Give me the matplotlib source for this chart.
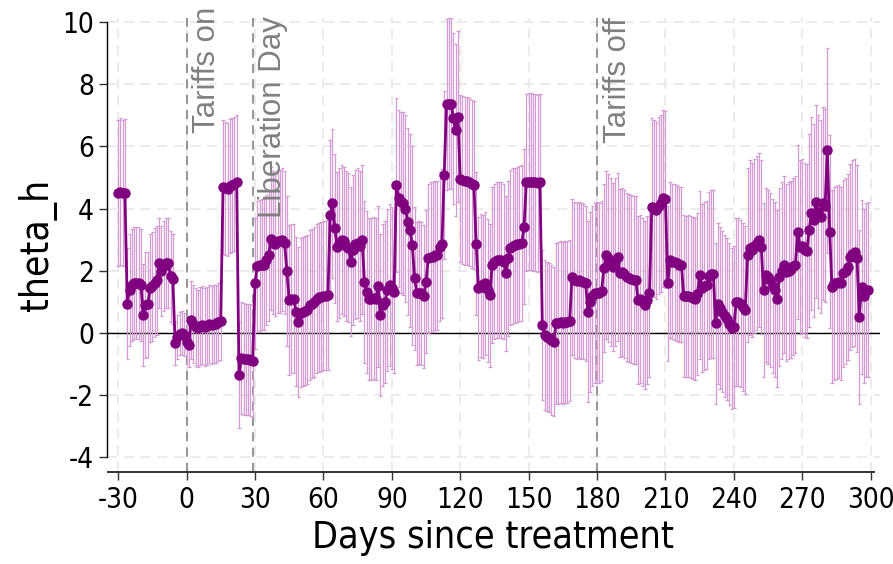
import matplotlib
matplotlib.use("Agg")
import matplotlib.pyplot as plt
from matplotlib import font_manager

# Daily estimates of theta_h with 95% confidence half-widths
days = list(range(-30, 300))

theta = [
    4.50, 4.55, 4.50, 4.52, 0.95, 1.40, 1.55, 1.60, 1.62, 1.60,
    1.55, 0.58, 0.90, 0.92, 1.45, 1.50, 1.62, 1.70, 2.24, 2.00,
    2.15, 2.25, 2.25, 1.82, 1.75, -0.33, -0.12, -0.02, 0.00, -0.05,
    -0.30, -0.38, 0.42, 0.30, 0.20, 0.15, 0.22, 0.25, 0.20, 0.22,
    0.28, 0.25, 0.30, 0.30, 0.35, 0.38, 4.70, 4.65, 4.62, 4.72,
    4.75, 4.80, 4.85, -1.35, -0.80, -0.82, -0.85, -0.85, -0.88, -0.90,
    1.60, 2.15, 2.18, 2.20, 2.20, 2.35, 2.50, 3.04, 2.90, 2.85,
    2.95, 2.95, 3.00, 2.90, 2.00, 1.06, 1.10, 1.10, 0.69, 0.36,
    0.65, 0.69, 0.72, 0.75, 0.90, 0.95, 1.00, 1.10, 1.15, 1.17,
    1.20, 1.20, 1.22, 3.80, 4.17, 3.37, 2.78, 2.90, 3.00, 2.95,
    2.80, 2.75, 2.30, 2.67, 2.85, 2.90, 2.80, 3.00, 1.65, 1.33,
    1.10, 1.10, 1.12, 1.10, 1.50, 0.58, 0.90, 1.00, 1.38, 1.55,
    1.45, 1.33, 4.76, 4.33, 4.20, 4.17, 4.00, 3.58, 3.31, 2.83,
    1.76, 1.28, 1.30, 1.28, 1.19, 1.65, 2.40, 2.45, 2.45, 2.50,
    2.50, 2.78, 2.88, 5.08, 7.35, 7.38, 7.38, 6.90, 6.53, 6.96,
    4.97, 4.92, 4.90, 4.88, 4.85, 4.80, 4.76, 2.88, 1.44, 1.54,
    1.49, 1.60, 1.38, 1.22, 2.19, 2.30, 2.35, 2.35, 2.35, 2.30,
    1.92, 2.40, 2.75, 2.80, 2.82, 2.85, 2.88, 2.90, 3.42, 4.85,
    4.87, 4.87, 4.85, 4.85, 4.82, 4.85, 0.26, -0.06, -0.12, -0.15,
    -0.22, -0.28, 0.31, 0.33, 0.35, 0.33, 0.35, 0.36, 0.40, 1.81,
    1.70, 1.67, 1.70, 1.68, 1.65, 1.60, 0.69, 1.00, 1.20, 1.28,
    1.30, 1.28, 1.35, 2.08, 2.50, 2.40, 2.30, 2.13, 2.30, 2.45,
    1.92, 1.95, 1.90, 1.80, 1.78, 1.75, 1.72, 1.70, 1.06, 1.10,
    1.00, 0.90, 1.05, 1.28, 4.06, 4.00, 3.95, 4.10, 4.17, 4.33,
    4.30, 1.60, 2.35, 2.30, 2.28, 2.25, 2.20, 2.20, 1.20, 1.18,
    1.20, 1.15, 1.12, 1.10, 1.25, 1.86, 1.45, 1.50, 1.55, 1.85,
    1.90, 1.90, 0.31, 0.95, 0.80, 0.69, 0.55, 0.45, 0.30, 0.15,
    0.20, 1.00, 1.00, 0.95, 0.85, 0.74, 2.50, 2.75, 2.67, 2.80,
    2.90, 3.00, 2.78, 1.38, 1.86, 1.80, 1.70, 1.50, 1.40, 1.10,
    1.80, 2.00, 2.20, 1.95, 2.00, 2.05, 2.15, 2.20, 3.26, 2.78,
    2.80, 2.67, 2.65, 3.31, 3.85, 3.63, 4.22, 3.90, 3.74, 4.17,
    4.10, 5.88, 3.26, 1.49, 1.60, 1.62, 1.65, 1.60, 1.92, 2.00,
    2.13, 2.45, 2.55, 2.60, 2.40, 0.53, 1.49, 1.20, 1.38, 1.40,
]

ci_half = [
    2.35, 2.35, 2.35, 2.35, 1.80, 1.80, 1.80, 1.80, 1.80, 1.80,
    1.80, 1.65, 1.70, 1.70, 1.75, 1.75, 1.75, 1.75, 1.45, 1.45,
    1.45, 1.45, 1.45, 1.45, 1.45, 0.70, 0.70, 0.70, 0.70, 0.70,
    0.70, 0.70, 1.25, 1.25, 1.25, 1.25, 1.25, 1.25, 1.25, 1.25,
    1.25, 1.25, 1.25, 1.25, 1.25, 1.25, 2.15, 2.15, 2.15, 2.15,
    2.15, 2.15, 2.15, 1.70, 1.80, 1.80, 1.80, 1.80, 1.80, 1.80,
    2.10, 2.10, 2.10, 2.10, 2.10, 2.10, 2.10, 2.30, 2.30, 2.30,
    2.30, 2.30, 2.30, 2.30, 2.40, 2.40, 2.40, 2.40, 2.40, 2.40,
    2.40, 2.40, 2.40, 2.40, 2.40, 2.40, 2.40, 2.40, 2.40, 2.40,
    2.40, 2.40, 2.40, 2.40, 2.40, 2.40, 2.40, 2.40, 2.40, 2.40,
    2.40, 2.40, 2.40, 2.40, 2.40, 2.40, 2.40, 2.40, 2.60, 2.60,
    2.60, 2.60, 2.60, 2.60, 2.60, 2.60, 2.60, 2.60, 2.60, 2.60,
    2.60, 2.60, 2.80, 2.85, 2.90, 2.95, 3.00, 3.00, 3.10, 3.20,
    2.30, 2.30, 2.30, 2.30, 2.30, 2.30, 2.40, 2.40, 2.40, 2.40,
    2.40, 2.40, 2.40, 2.70, 2.75, 2.75, 2.75, 2.75, 2.75, 2.75,
    2.70, 2.70, 2.70, 2.70, 2.70, 2.70, 2.70, 2.30, 2.30, 2.30,
    2.30, 2.30, 2.30, 2.30, 2.50, 2.50, 2.50, 2.50, 2.50, 2.50,
    2.50, 2.50, 2.50, 2.50, 2.50, 2.50, 2.50, 2.50, 2.50, 2.85,
    2.85, 2.85, 2.85, 2.85, 2.85, 2.85, 2.40, 2.40, 2.40, 2.40,
    2.40, 2.40, 2.60, 2.60, 2.60, 2.60, 2.60, 2.60, 2.60, 2.50,
    2.50, 2.50, 2.50, 2.50, 2.50, 2.50, 2.90, 2.90, 2.90, 2.90,
    2.90, 2.90, 2.90, 2.70, 2.70, 2.70, 2.70, 2.70, 2.70, 2.70,
    2.70, 2.70, 2.70, 2.70, 2.70, 2.70, 2.70, 2.70, 2.70, 2.70,
    2.70, 2.70, 2.70, 2.70, 2.85, 2.85, 2.85, 2.85, 2.85, 2.85,
    2.85, 2.50, 2.50, 2.50, 2.50, 2.50, 2.50, 2.50, 2.60, 2.60,
    2.60, 2.60, 2.60, 2.60, 2.60, 2.70, 2.70, 2.70, 2.70, 2.70,
    2.70, 2.70, 2.60, 2.60, 2.60, 2.60, 2.60, 2.60, 2.60, 2.60,
    2.60, 2.70, 2.70, 2.70, 2.70, 2.70, 2.80, 2.80, 2.80, 2.80,
    2.80, 2.80, 2.80, 2.80, 2.80, 2.80, 2.80, 2.80, 2.80, 2.85,
    2.85, 2.85, 2.85, 2.85, 2.85, 2.85, 2.85, 2.85, 2.80, 2.80,
    2.80, 2.80, 2.80, 3.10, 3.10, 3.10, 3.10, 3.10, 3.10, 3.10,
    3.10, 3.30, 3.10, 3.10, 3.10, 3.10, 3.10, 3.10, 3.00, 3.00,
    3.00, 3.00, 3.00, 3.00, 3.00, 2.80, 2.80, 2.80, 2.80, 2.80,
]

events = [0, 29, 180]
event_labels = ["Tariffs on", "Liberation Day", "Tariffs off"]
event_label_top = [10.5, 10.2, 10.15]
x_ticks = [-30, 0, 30, 60, 90, 120, 150, 180, 210, 240, 270, 300]
y_ticks = [-4, -2, 0, 2, 4, 6, 8, 10]

# pick a narrow sans face if one is installed
narrow_font = None
for f in font_manager.fontManager.ttflist:
    if "Narrow" in f.name or f.stretch in ("condensed", "semi-condensed"):
        if "Mono" in f.name or "Serif" in f.name:
            continue
        if f.weight in (400, "normal", "regular", "book") and f.style == "normal":
            narrow_font = (f.name, f.stretch)
            break

if narrow_font is not None:
    axis_font = dict(family=[narrow_font[0], "DejaVu Sans"], stretch=narrow_font[1])
else:
    axis_font = dict(family=["Liberation Sans", "DejaVu Sans"])
plt.rcParams["font.family"] = axis_font["family"]
if "stretch" in axis_font:
    plt.rcParams["font.stretch"] = axis_font["stretch"]

fig = plt.figure(figsize=(8.93, 5.64), dpi=100)
ax = fig.add_axes([0.120, 0.163, 0.865, 0.805])

ax.set_xlim(-34.8, 303.9)
ax.set_ylim(-4.47, 10.13)

# light dashed grid
for xt in x_ticks:
    ax.axvline(xt, color="#e8e8e8", lw=1.2, ls=(0, (6, 4)), zorder=0)
for yt in y_ticks:
    ax.axhline(yt, color="#e8e8e8", lw=1.2, ls=(0, (6, 4)), zorder=0)

ax.axhline(0, color="black", lw=1.0, zorder=1)

lower = [v - h for v, h in zip(theta, ci_half)]
upper = [v + h for v, h in zip(theta, ci_half)]
ci_color = "#d39ad3"
ax.vlines(days, lower, upper, color=ci_color, lw=0.9, zorder=2)
ax.hlines(lower, [d - 0.75 for d in days], [d + 0.75 for d in days], color=ci_color, lw=0.9, zorder=2)
ax.hlines(upper, [d - 0.75 for d in days], [d + 0.75 for d in days], color=ci_color, lw=0.9, zorder=2)

ax.plot(days, theta, color="#800080", lw=2.0, marker="o", ms=7.5,
        markeredgewidth=0, zorder=3)

for ev, lab, top in zip(events, event_labels, event_label_top):
    ax.axvline(ev, color="#8c8c8c", lw=1.3, ls=(0, (5, 3.5)), zorder=1)
    ax.text(ev + 2.4, top, lab, rotation=90, ha="left", va="top",
            color="#808080", fontsize=22.5, family=["Liberation Sans", "DejaVu Sans"],
            stretch="normal", clip_on=False)

ax.set_xticks(x_ticks)
ax.set_xticklabels([str(t) for t in x_ticks])
ax.set_yticks(y_ticks)
ax.set_yticklabels([str(t) for t in y_ticks])
ax.tick_params(axis="both", labelsize=20, length=6, width=1.0, color="#333333")
ax.tick_params(axis="x", pad=4)

for side in ("top", "right"):
    ax.spines[side].set_visible(False)
ax.spines["left"].set_bounds(-4, 10)
ax.spines["bottom"].set_bounds(-34.4, 301.5)
ax.spines["left"].set_linewidth(1.0)
ax.spines["bottom"].set_linewidth(1.4)
ax.spines["bottom"].set_color("#333333")

ax.set_xlabel("Days since treatment", fontsize=27, labelpad=4)
ax.set_ylabel("theta_h", fontsize=28, labelpad=4)

fig.savefig("out.png", dpi=100)
